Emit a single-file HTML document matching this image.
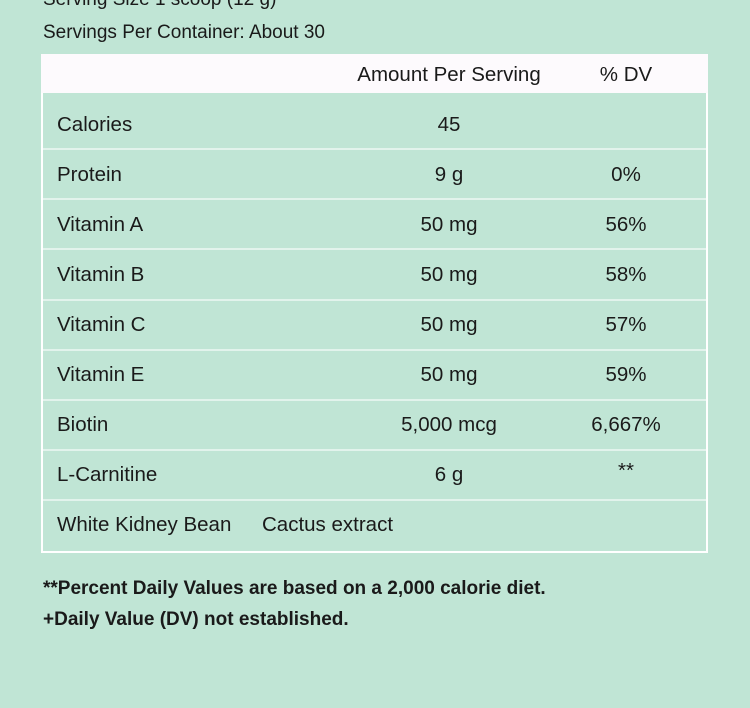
<!DOCTYPE html>
<html><head><meta charset="utf-8"><style>
body{margin:0;width:750px;height:708px;background:#c0e5d5;font-family:"Liberation Sans","Noto Sans CJK SC",sans-serif;color:#1a1a1a;position:relative;overflow:hidden}
.t{position:absolute;font-size:19px;white-space:nowrap;line-height:1}
.tbl{position:absolute;left:41px;top:54px;width:663px;height:497px;border:2px solid #fff;border-top:none}
.hdr{position:absolute;left:41px;top:54px;width:667px;height:39px;background:#fdfafd}
.ln{position:absolute;left:43px;width:663px;height:2px;background:#e2f3ec}
.c{position:absolute;font-size:20.5px;line-height:1;white-space:nowrap;transform:translate(-50%,-50%)}
.l{position:absolute;left:57px;font-size:20.5px;line-height:1;white-space:nowrap;transform:translateY(-50%)}
.b{font-weight:bold;font-size:19px}
</style></head><body>
<div class="t" style="left:43px;top:-10px">Serving Size 1 scoop (12 g)</div>
<div class="t" style="left:43px;top:23px">Servings Per Container: About 30</div>
<div class="tbl"></div>
<div class="hdr"></div>
<div class="c" style="left:449px;top:75px">Amount Per Serving</div>
<div class="c" style="left:626px;top:75px">% DV</div>
<div class="ln" style="top:148px"></div>
<div class="ln" style="top:198px"></div>
<div class="ln" style="top:248px"></div>
<div class="ln" style="top:299px"></div>
<div class="ln" style="top:349px"></div>
<div class="ln" style="top:399px"></div>
<div class="ln" style="top:449px"></div>
<div class="ln" style="top:499px"></div>
<div class="l" style="top:125px">Calories</div><div class="c" style="left:449px;top:125px">45</div>
<div class="l" style="top:175px">Protein</div><div class="c" style="left:449px;top:175px">9 g</div><div class="c" style="left:626px;top:175px">0%</div>
<div class="l" style="top:225px">Vitamin A</div><div class="c" style="left:449px;top:225px">50 mg</div><div class="c" style="left:626px;top:225px">56%</div>
<div class="l" style="top:275px">Vitamin B</div><div class="c" style="left:449px;top:275px">50 mg</div><div class="c" style="left:626px;top:275px">58%</div>
<div class="l" style="top:325px">Vitamin C</div><div class="c" style="left:449px;top:325px">50 mg</div><div class="c" style="left:626px;top:325px">57%</div>
<div class="l" style="top:375px">Vitamin E</div><div class="c" style="left:449px;top:375px">50 mg</div><div class="c" style="left:626px;top:375px">59%</div>
<div class="l" style="top:425px">Biotin</div><div class="c" style="left:449px;top:425px">5,000 mcg</div><div class="c" style="left:626px;top:425px">6,667%</div>
<div class="l" style="top:475px">L-Carnitine</div><div class="c" style="left:449px;top:475px">6 g</div><div class="c" style="left:626px;top:471px">**</div>
<div class="l" style="top:525px">White Kidney Bean</div><div class="l" style="left:262px;top:525px">Cactus extract</div>
<div class="t b" style="left:43px;top:579px">**Percent Daily Values are based on a 2,000 calorie diet.</div>
<div class="t b" style="left:43px;top:610px">+Daily Value (DV) not established.</div>
</body></html>
